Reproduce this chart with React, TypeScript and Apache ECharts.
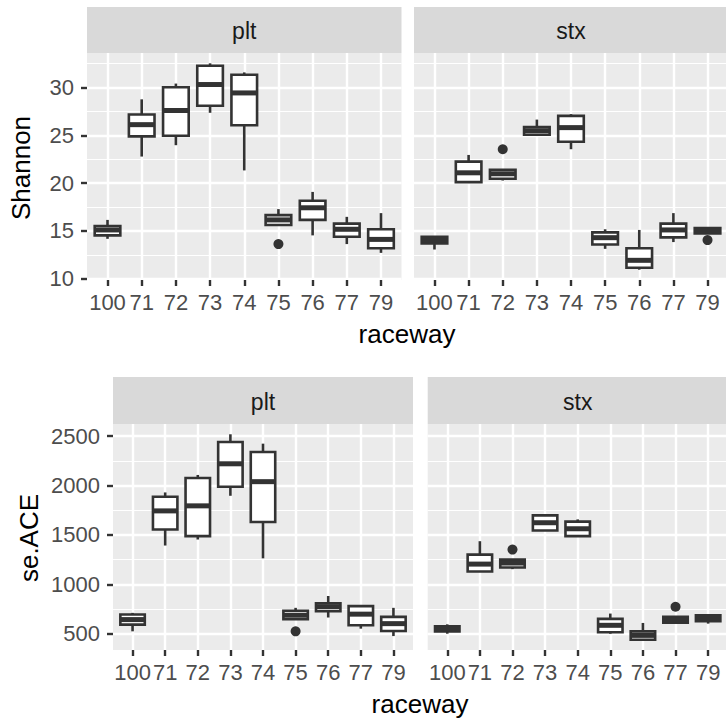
import React, { useEffect, useRef } from 'react';
import * as echarts from 'echarts';

const categories = ['100', '71', '72', '73', '74', '75', '76', '77', '79'];

// each row: [lower whisker, Q1, median, Q3, upper whisker]
const shannonPlt = [
  [14.17, 14.53, 15.1, 15.52, 16.15],
  [22.78, 24.89, 26.12, 27.18, 28.77],
  [23.97, 24.96, 27.6, 30.04, 30.42],
  [27.36, 28.1, 30.32, 32.29, 32.54],
  [21.33, 26.05, 29.44, 31.34, 31.59],
  [15.55, 15.62, 16.15, 16.65, 17.28],
  [14.53, 16.15, 17.42, 18.16, 19.08],
  [13.62, 14.39, 15.17, 15.76, 16.47],
  [12.7, 13.19, 14.11, 15.17, 16.86],
];
const shannonPltOutliers = [['75', 13.62]];

const shannonStx = [
  [13.05, 13.69, 14.04, 14.39, 14.45],
  [20.1, 20.1, 21.08, 22.25, 22.95],
  [20.27, 20.45, 20.98, 21.4, 21.45],
  [24.96, 25.07, 25.49, 25.88, 26.65],
  [23.55, 24.33, 25.81, 27.04, 27.22],
  [13.12, 13.58, 14.29, 14.85, 15.17],
  [10.94, 11.15, 11.92, 13.19, 15.1],
  [13.83, 14.32, 15.1, 15.76, 16.86],
  [14.7, 14.74, 15.03, 15.31, 15.35],
];
const shannonStxOutliers = [['72', 23.55], ['79', 14.04]];

const acePlt = [
  [524, 592, 643, 694, 711],
  [1393, 1556, 1744, 1887, 1931],
  [1454, 1488, 1795, 2077, 2108],
  [1897, 1989, 2221, 2442, 2520],
  [1263, 1631, 2040, 2340, 2425],
  [640, 647, 687, 732, 762],
  [664, 728, 773, 807, 882],
  [551, 585, 698, 779, 779],
  [476, 527, 602, 670, 762],
];
const acePltOutliers = [['75', 524]];

const aceStx = [
  [500, 524, 551, 575, 595],
  [1130, 1130, 1205, 1301, 1437],
  [1154, 1171, 1216, 1250, 1255],
  [1546, 1546, 1624, 1699, 1699],
  [1488, 1488, 1563, 1635, 1658],
  [500, 514, 585, 650, 704],
  [439, 439, 483, 524, 609],
  [612, 612, 643, 670, 670],
  [602, 626, 660, 687, 687],
];
const aceStxOutliers = [['72', 1352], ['77', 773]];

const shannonTicks = [10, 15, 20, 25, 30];
const aceTicks = [500, 1000, 1500, 2000, 2500];
const facetNames = ['plt', 'stx'];
const yTitles = ['Shannon', 'se.ACE'];
const xTitle = 'raceway';

const FAMILY = '"Liberation Sans", Arial, Helvetica, sans-serif';
const INK = '#333333';

function expandRange(sets: number[][][], outs: any[][][]): [number, number] {
  let lo = Infinity;
  let hi = -Infinity;
  sets.forEach((s) => s.forEach((r) => r.forEach((v) => { lo = Math.min(lo, v); hi = Math.max(hi, v); })));
  outs.forEach((o) => o.forEach((p) => { lo = Math.min(lo, p[1]); hi = Math.max(hi, p[1]); }));
  const pad = (hi - lo) * 0.05;
  return [lo - pad, hi + pad];
}

export default function App() {
  const ref = useRef<HTMLDivElement>(null);
  useEffect(() => {
    if (!ref.current) return;
    const chart = echarts.init(ref.current, undefined, { renderer: 'svg' });

    const shRange = expandRange([shannonPlt, shannonStx], [shannonPltOutliers, shannonStxOutliers]);
    const aceRange = expandRange([acePlt, aceStx], [acePltOutliers, aceStxOutliers]);

    const panels = [
      { box: shannonPlt, out: shannonPltOutliers, range: shRange, ticks: shannonTicks, left: 87, width: 314.5, top: 53, height: 227, stripTop: 7, first: true, name: facetNames[0] },
      { box: shannonStx, out: shannonStxOutliers, range: shRange, ticks: shannonTicks, left: 414, width: 314, top: 53, height: 227, stripTop: 7, first: false, name: facetNames[1] },
      { box: acePlt, out: acePltOutliers, range: aceRange, ticks: aceTicks, left: 113, width: 300, top: 424, height: 226, stripTop: 377, first: true, name: facetNames[0] },
      { box: aceStx, out: aceStxOutliers, range: aceRange, ticks: aceTicks, left: 427.7, width: 300, top: 424, height: 226, stripTop: 377, first: false, name: facetNames[1] },
    ];

    const grid: any[] = [];
    const xAxis: any[] = [];
    const yAxis: any[] = [];
    const series: any[] = [];
    const graphic: any[] = [];

    panels.forEach((p, i) => {
      const unit = p.width / 9.2;
      grid.push({ show: true, backgroundColor: '#EBEBEB', borderWidth: 0, left: p.left, top: p.top, width: p.width, height: p.height, outerBoundsMode: 'none', containLabel: false });
      grid.push({ show: false, left: p.left + 0.6 * unit, top: p.top, width: 8 * unit, height: p.height, outerBoundsMode: 'none', containLabel: false });

      xAxis.push({ type: 'value', gridIndex: 2 * i, min: 0, max: 1, show: false });
      xAxis.push({
        type: 'category', gridIndex: 2 * i + 1, data: categories, boundaryGap: false,
        axisLine: { show: false },
        axisTick: { show: true, length: 6, lineStyle: { color: INK, width: 2.4 } },
        axisLabel: { show: true, interval: 0, margin: 11, fontSize: 22, fontFamily: FAMILY, color: '#4D4D4D' },
        splitLine: { show: true, lineStyle: { color: '#FFFFFF', width: 2.4 } },
      });

      yAxis.push({
        type: 'value', gridIndex: 2 * i, min: p.range[0], max: p.range[1],
        axisLine: { show: false },
        axisTick: { show: p.first, customValues: p.ticks, length: 6, lineStyle: { color: INK, width: 2.4 } },
        axisLabel: { show: p.first, customValues: p.ticks, formatter: (v: number) => String(v), margin: 13, fontSize: 22, fontFamily: FAMILY, color: '#4D4D4D' },
        splitLine: { show: true, lineStyle: { color: '#FFFFFF', width: 2.4 } },
        minorTick: { show: false, splitNumber: 2 },
        minorSplitLine: { show: true, lineStyle: { color: '#FFFFFF', width: 1.2 } },
      });
      yAxis.push({ type: 'value', gridIndex: 2 * i + 1, min: p.range[0], max: p.range[1], show: false });

      series.push({
        type: 'custom',
        xAxisIndex: 2 * i + 1,
        yAxisIndex: 2 * i + 1,
        encode: { x: 0, y: [1, 2, 3, 4, 5] },
        data: p.box.map((r, k) => [k, ...r]),
        renderItem: (params: any, api: any) => {
          const c = api.value(0);
          const lo = api.coord([c, api.value(1)]);
          const q1 = api.coord([c, api.value(2)]);
          const md = api.coord([c, api.value(3)]);
          const q3 = api.coord([c, api.value(4)]);
          const hi = api.coord([c, api.value(5)]);
          const step = Math.abs(api.coord([1, api.value(3)])[0] - api.coord([0, api.value(3)])[0]);
          const half = step * 0.375;
          const x = md[0];
          const ls = { stroke: INK, lineWidth: 2.6, fill: null };
          return {
            type: 'group',
            children: [
              { type: 'line', shape: { x1: x, y1: hi[1], x2: x, y2: q3[1] }, style: ls },
              { type: 'line', shape: { x1: x, y1: q1[1], x2: x, y2: lo[1] }, style: ls },
              { type: 'rect', shape: { x: x - half, y: q3[1], width: 2 * half, height: q1[1] - q3[1] }, style: { fill: '#FFFFFF', stroke: INK, lineWidth: 2.6 } },
              { type: 'line', shape: { x1: x - half, y1: md[1], x2: x + half, y2: md[1] }, style: { stroke: INK, lineWidth: 5 } },
            ],
          };
        },
      });
      series.push({
        type: 'scatter',
        xAxisIndex: 2 * i + 1,
        yAxisIndex: 2 * i + 1,
        data: p.out,
        symbol: 'circle',
        symbolSize: 10,
        itemStyle: { color: INK, opacity: 1 },
        clip: false,
      });

      graphic.push({ type: 'rect', z: 1, shape: { x: p.left, y: p.stripTop, width: p.width, height: p.top - p.stripTop }, style: { fill: '#D9D9D9' } });
      graphic.push({
        type: 'text', z: 2, x: p.left + p.width / 2, y: (p.stripTop + p.top) / 2 + 1,
        style: { text: p.name, font: '23px ' + FAMILY, fontSize: 23, fontFamily: FAMILY, fill: '#1A1A1A', align: 'center', verticalAlign: 'middle', textAlign: 'center', textVerticalAlign: 'middle' },
      });
    });

    const titleStyle = { font: '26px ' + FAMILY, fontSize: 26, fontFamily: FAMILY, fill: '#000000', align: 'center', verticalAlign: 'middle', textAlign: 'center', textVerticalAlign: 'middle' };
    graphic.push({ type: 'text', x: 407, y: 334, style: { ...titleStyle, text: xTitle } });
    graphic.push({ type: 'text', x: 420, y: 704, style: { ...titleStyle, text: xTitle } });
    graphic.push({ type: 'text', x: 21, y: 168, rotation: Math.PI / 2, style: { ...titleStyle, text: yTitles[0] } });
    graphic.push({ type: 'text', x: 29, y: 538, rotation: Math.PI / 2, style: { ...titleStyle, text: yTitles[1] } });

    chart.setOption({
      animation: false,
      backgroundColor: '#FFFFFF',
      grid,
      xAxis,
      yAxis,
      series,
      graphic: { elements: graphic },
    });
    return () => chart.dispose();
  }, []);
  return <div ref={ref} style={{ position: 'absolute', left: 0, top: 0, width: 726, height: 720 }} />;
}
